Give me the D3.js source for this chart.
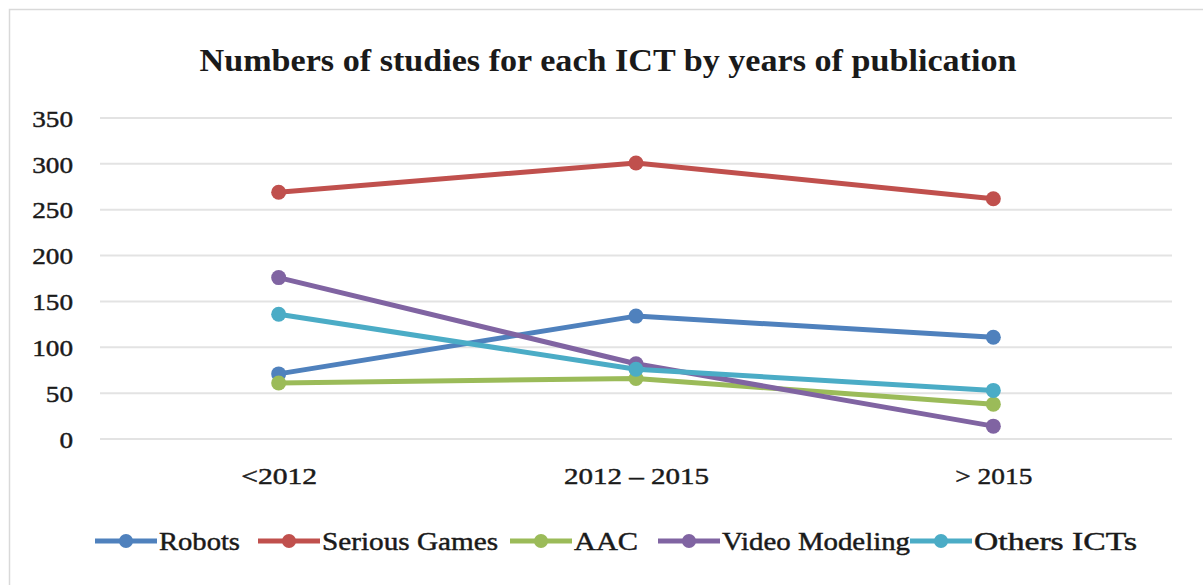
<!DOCTYPE html>
<html><head><meta charset="utf-8">
<script src="https://cdn.jsdelivr.net/npm/d3@7"></script>
<style>
html,body{margin:0;padding:0;background:#fff;}
text{font-family:"Liberation Serif","DejaVu Serif",serif;fill:#1a1a1a;}
.heavy{stroke:#1a1a1a;stroke-width:0.45px;}
</style></head>
<body>
<svg id="chart" width="1203" height="585"></svg>
<script>
const categories = ["<2012", "2012 – 2015", "> 2015"];
const seriesNames = ["Robots", "Serious Games", "AAC", "Video Modeling", "Others ICTs"];
const robots = [71, 134, 111];
const seriousGames = [269, 301, 262];
const aac = [61, 66, 38];
const videoModeling = [176, 82, 14];
const othersICTs = [136, 76, 53];
const yTicks = [0, 50, 100, 150, 200, 250, 300, 350];
const colors = ["#4f81bd", "#c0504d", "#9bbb59", "#8064a2", "#4bacc6"];
const title = "Numbers of studies for each ICT by years of publication";

const seriesValues = [robots, seriousGames, aac, videoModeling, othersICTs];

(function () {
const svg = d3.select("#chart");
// outer frame
svg.append("path").attr("d", "M9.5,585 L9.5,9.5 L1203,9.5")
  .attr("fill", "none").attr("stroke", "#d9d9d9").attr("stroke-width", 1.5);

const pLeft = 100, pRight = 1172, pTop = 118, pBottom = 439;
const x = d3.scalePoint().domain(categories).range([pLeft, pRight]).padding(0.5);
const y = d3.scaleLinear().domain([0, 350]).range([pBottom, pTop]);

// title
svg.append("text").attr("x", 608).attr("y", 71).attr("text-anchor", "middle")
  .attr("font-size", 32).attr("font-weight", "bold")
  .attr("textLength", 817).attr("lengthAdjust", "spacingAndGlyphs")
  .text(title);

// gridlines
svg.append("g").selectAll("line").data(yTicks).join("line")
  .attr("x1", pLeft).attr("x2", pRight)
  .attr("y1", d => y(d)).attr("y2", d => y(d))
  .attr("stroke", "#e3e3e3").attr("stroke-width", 2);

// y axis
const yAxis = d3.axisLeft(y).tickValues(yTicks).tickSize(0).tickPadding(0);
const gy = svg.append("g").attr("transform", "translate(73,0)").call(yAxis);
gy.select(".domain").remove();
gy.attr("font-family", null).attr("font-size", null);
gy.selectAll("text").attr("class", "heavy").attr("font-size", 24).attr("dy", "0.34em")
  .attr("textLength", d => String(d).length * 13.6).attr("lengthAdjust", "spacingAndGlyphs")
  .style("fill", "#1a1a1a");

// x axis
const xLabelW = [76, 145, 77];
const xAxis = d3.axisBottom(x).tickSize(0).tickPadding(0);
const gx = svg.append("g").attr("transform", "translate(0,467)").call(xAxis);
gx.select(".domain").remove();
gx.attr("font-family", null).attr("font-size", null);
gx.selectAll("text").attr("class", "heavy").attr("font-size", 24).attr("dy", "0.7em")
  .attr("textLength", (d, i) => xLabelW[i]).attr("lengthAdjust", "spacingAndGlyphs")
  .style("fill", "#1a1a1a");

// lines
const line = d3.line().x((d, i) => x(categories[i])).y(d => y(d));
seriesValues.forEach((vals, s) => {
  const g = svg.append("g");
  g.append("path").datum(vals).attr("d", line)
    .attr("fill", "none").attr("stroke", colors[s]).attr("stroke-width", 5)
    .attr("stroke-linejoin", "round").attr("stroke-linecap", "round");
  g.selectAll("circle").data(vals).join("circle")
    .attr("cx", (d, i) => x(categories[i])).attr("cy", d => y(d))
    .attr("r", 7.5).attr("fill", colors[s]);
});

// legend
const legendX = [95, 258, 510, 658, 910];
const legendW = [81, 176, 64, 188, 163];
const ly = 541;
seriesNames.forEach((name, s) => {
  const g = svg.append("g").attr("transform", `translate(${legendX[s]},${ly})`);
  g.append("line").attr("x1", 0).attr("x2", 62).attr("y1", 0).attr("y2", 0)
    .attr("stroke", colors[s]).attr("stroke-width", 5);
  g.append("circle").attr("cx", 31).attr("cy", 0).attr("r", 7).attr("fill", colors[s]);
  g.append("text").attr("class", "heavy").attr("x", 64).attr("y", 9).attr("font-size", 25)
    .attr("textLength", legendW[s]).attr("lengthAdjust", "spacingAndGlyphs").text(name);
});
})();
</script>
</body></html>
